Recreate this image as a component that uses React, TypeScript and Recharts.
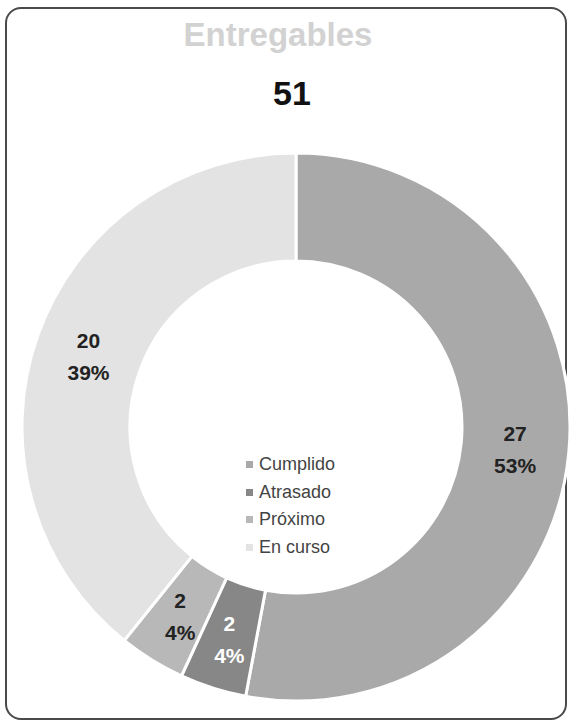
import React from "react";
import { PieChart, Pie, Cell, Legend } from "recharts";

const categories = ["Cumplido", "Atrasado", "Próximo", "En curso"];
const values = [27, 2, 2, 20];
const colors = ["#a9a9a9", "#878787", "#b8b8b8", "#e3e3e3"];
const labelColors = ["#222222", "#ffffff", "#222222", "#222222"];
const title = "Entregables";
const total = values.reduce((a, b) => a + b, 0);

const data = categories.map((name, i) => ({ name, value: values[i] }));

const FONT = "'Liberation Sans', Arial, Helvetica, sans-serif";
const RAD = Math.PI / 180;

const renderLabel = (props: any) => {
  const { cx, cy, midAngle, innerRadius, outerRadius, value, percent, index } = props;
  const r = (innerRadius + outerRadius) / 2;
  const x = cx + r * Math.cos(-midAngle * RAD);
  const y = cy + r * Math.sin(-midAngle * RAD);
  return (
    <text
      x={x}
      y={y}
      textAnchor="middle"
      fill={labelColors[index]}
      fontFamily={FONT}
      fontWeight="bold"
      fontSize={21}
    >
      <tspan x={x} dy={-6}>{value}</tspan>
      <tspan x={x} dy={32}>{`${Math.round(percent * 100)}%`}</tspan>
    </text>
  );
};

const renderLegend = () => (
  <div style={{ fontFamily: FONT, fontSize: 18, color: "#444" }}>
    {categories.map((c, i) => (
      <div key={c} style={{ display: "flex", alignItems: "center", height: 27.5 }}>
        <span
          style={{
            display: "inline-block",
            width: 7,
            height: 7,
            background: colors[i],
            marginRight: 6,
          }}
        />
        <span>{c}</span>
      </div>
    ))}
  </div>
);

export default function App() {
  return (
    <div style={{ position: "absolute", left: 0, top: 0, width: 571, height: 723, background: "#fff" }}>
      <div
        style={{
          position: "absolute",
          left: 5,
          top: 7,
          width: 562,
          height: 713,
          border: "2px solid #4a4a4a",
          borderRadius: 16,
          boxSizing: "border-box",
        }}
      />
      <div
        style={{
          position: "absolute",
          left: 0,
          width: 556,
          top: 16,
          textAlign: "center",
          fontFamily: FONT,
          fontWeight: "bold",
          fontSize: 33,
          color: "#d2d2d2",
        }}
      >
        {title}
      </div>
      <div
        style={{
          position: "absolute",
          left: 0,
          width: 584,
          top: 74,
          textAlign: "center",
          fontFamily: FONT,
          fontWeight: "bold",
          fontSize: 34,
          color: "#111",
        }}
      >
        {total}
      </div>
      <div style={{ position: "absolute", left: 0, top: 0 }}>
        <PieChart width={571} height={723}>
          <Pie
            data={data}
            dataKey="value"
            nameKey="name"
            cx={291}
            cy={422}
            innerRadius={166}
            outerRadius={274}
            startAngle={90}
            endAngle={-270}
            stroke="#ffffff"
            strokeWidth={3}
            label={renderLabel}
            labelLine={false}
            isAnimationActive={false}
          >
            {data.map((d, i) => (
              <Cell key={d.name} fill={colors[i]} />
            ))}
          </Pie>
          <Legend
            content={renderLegend}
            layout="vertical"
            wrapperStyle={{ position: "absolute", left: 246, top: 451, width: 130 }}
          />
        </PieChart>
      </div>
    </div>
  );
}
